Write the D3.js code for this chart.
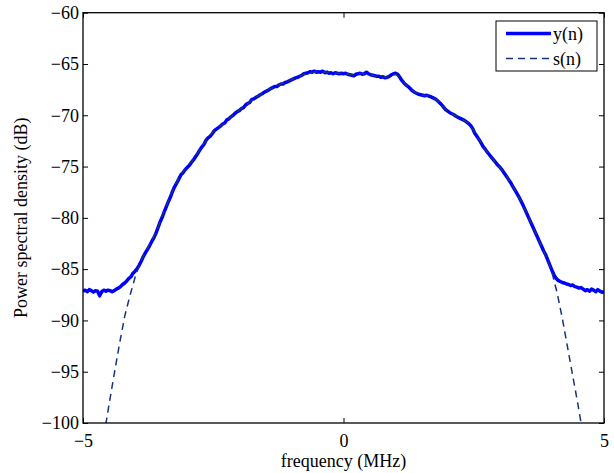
<!DOCTYPE html>
<html lang="en">
<head>
  <meta charset="UTF-8">
  <title>Power spectral density</title>
  <script src='https://d3js.org/d3.v7.min.js'></script>
  <style>
    body { margin: 0; background: #fff; }
    text { font-family: 'Liberation Serif', 'Times New Roman', serif; }
  </style>
</head>
<body>
</body>
<script>
  const width = 614, height = 473;
  const margin = {top: 12.7, right: 10, bottom: 50, left: 83};

  // y(n): measured spectrum, sampled every 0.04 MHz from -5 MHz
  const yStart = -5, yStep = 0.04;
  const yValues = [
    -87.15, -87.05, -87.20, -87.00, -87.10, -87.25, -87.10, -87.15, -87.60, -87.20,
    -87.05, -87.15, -87.05, -87.10, -87.20, -87.10, -86.95, -86.85, -86.70, -86.50,
    -86.35, -86.15, -85.90, -85.75, -85.40, -85.20, -84.95, -84.60, -84.20, -83.75,
    -83.40, -83.05, -82.70, -82.30, -81.95, -81.50, -80.95, -80.40, -79.95, -79.40,
    -78.90, -78.40, -77.95, -77.40, -76.95, -76.60, -76.20, -75.80, -75.60, -75.30,
    -75.10, -74.90, -74.60, -74.35, -74.05, -73.75, -73.40, -73.10, -72.85, -72.45,
    -72.20, -72.05, -71.80, -71.50, -71.35, -71.20, -71.05, -70.85, -70.75, -70.45,
    -70.35, -70.15, -70.00, -69.80, -69.65, -69.55, -69.35, -69.25, -69.00, -68.85,
    -68.75, -68.45, -68.40, -68.25, -68.15, -68.00, -67.90, -67.75, -67.65, -67.55,
    -67.40, -67.30, -67.20, -67.20, -67.05, -66.95, -66.95, -66.80, -66.75, -66.65,
    -66.55, -66.45, -66.35, -66.30, -66.20, -66.10, -65.95, -65.90, -65.85, -65.75,
    -65.80, -65.70, -65.80, -65.75, -65.80, -65.70, -65.85, -65.80, -65.90, -65.85,
    -65.95, -65.85, -65.90, -65.95, -65.90, -65.95, -65.90, -66.00, -66.05, -66.10,
    -66.15, -66.00, -65.95, -65.90, -66.00, -65.95, -65.80, -65.95, -66.05, -66.10,
    -66.15, -66.20, -66.20, -66.30, -66.25, -66.35, -66.30, -66.20, -66.05, -65.95,
    -65.90, -66.00, -66.30, -66.60, -66.85, -67.05, -67.20, -67.40, -67.60, -67.75,
    -67.85, -67.95, -68.00, -68.05, -68.10, -68.05, -68.15, -68.20, -68.30, -68.40,
    -68.55, -68.75, -68.95, -69.20, -69.45, -69.60, -69.75, -69.85, -69.95, -70.10,
    -70.20, -70.30, -70.40, -70.50, -70.65, -70.80, -71.00, -71.30, -71.75, -72.05,
    -72.35, -72.70, -73.05, -73.30, -73.60, -73.85, -74.10, -74.35, -74.60, -74.85,
    -75.05, -75.30, -75.60, -75.90, -76.20, -76.50, -76.85, -77.20, -77.55, -77.90,
    -78.30, -78.70, -79.15, -79.60, -80.05, -80.50, -80.95, -81.40, -81.85, -82.30,
    -82.75, -83.20, -83.60, -84.10, -84.60, -85.10, -85.55, -85.90, -86.10, -86.20,
    -86.30, -86.35, -86.45, -86.50, -86.60, -86.55, -86.70, -86.75, -86.85, -86.80,
    -86.95, -87.10, -87.00, -87.15, -86.95, -87.05, -87.20, -87.00, -87.15, -87.25,
    -87.20
  ];

  // s(n): reference signal spectrum, sampled every 0.1 MHz from -4.6 MHz
  const sStart = -4.6, sStep = 0.1;
  const sValues = [
    -101.3, -98.2, -95.2, -92.3, -89.6, -87.6, -85.8, -84.3, -83.3, -82.4,
    -81.4, -80.1, -78.8, -77.6, -76.5, -75.6, -75.0, -74.4, -73.7, -72.9,
    -72.2, -71.6, -71.2, -70.8, -70.3, -69.9, -69.5, -69.1, -68.7, -68.3,
    -68.0, -67.7, -67.4, -67.2, -66.95, -66.75, -66.55, -66.3, -66.1, -65.9,
    -65.8, -65.75, -65.75, -65.85, -65.9, -65.9, -65.95, -66.0, -66.05, -65.95,
    -65.95, -66.0, -66.15, -66.25, -66.3, -66.15, -66.0, -66.45, -67.05, -67.5,
    -67.85, -68.05, -68.1, -68.25, -68.55, -69.1, -69.6, -69.9, -70.2, -70.45,
    -70.8, -71.5, -72.35, -73.2, -73.85, -74.5, -75.05, -75.75, -76.5, -77.4,
    -78.3, -79.4, -80.5, -81.6, -82.75, -83.9, -85.3, -87.3, -89.8, -92.6,
    -95.4, -98.2, -101.2
  ];

  const xTicks = [-5, 0, 5];
  const yTicks = [-60, -65, -70, -75, -80, -85, -90, -95, -100];
  const seriesNames = ['y(n)', 's(n)'];

  const yData = yValues.map((v, i) => ({f: yStart + i * yStep, v: v}));
  const sData = sValues.map((v, i) => ({f: sStart + i * sStep, v: v}));

  const svg = d3.select('body').append('svg')
    .attr('width', width).attr('height', height);

  const x = d3.scaleLinear().domain([-5, 5]).range([margin.left, width - margin.right]);
  const y = d3.scaleLinear().domain([-100, -60]).range([height - margin.bottom, margin.top]);

  svg.append('clipPath').attr('id', 'plot')
    .append('rect')
    .attr('x', x(-5)).attr('y', y(-60))
    .attr('width', x(5) - x(-5)).attr('height', y(-100) - y(-60));

  const line = d3.line().x(d => x(d.f)).y(d => y(d.v));

  const minus = v => (v < 0 ? '\u2212' : '') + Math.abs(v);

  // curves
  svg.append('path')
    .datum(yData)
    .attr('clip-path', 'url(#plot)')
    .attr('fill', 'none')
    .attr('stroke', '#0000ff')
    .attr('stroke-width', 3.5)
    .attr('stroke-linejoin', 'round')
    .attr('d', line);

  svg.append('path')
    .datum(sData)
    .attr('clip-path', 'url(#plot)')
    .attr('fill', 'none')
    .attr('stroke', '#17347a')
    .attr('stroke-width', 1.5)
    .attr('stroke-dasharray', '7,5')
    .attr('d', line);

  // axes (ticks point inward like matlab)
  const fontSize = 18;
  const axB = svg.append('g').attr('transform', `translate(0,${y(-100)})`)
    .call(d3.axisBottom(x).tickValues(xTicks).tickSizeInner(-5).tickSizeOuter(0).tickPadding(11).tickFormat(minus));
  const axT = svg.append('g').attr('transform', `translate(0,${y(-60)})`)
    .call(d3.axisTop(x).tickValues(xTicks).tickSizeInner(-5).tickSizeOuter(0).tickFormat(''));
  const axL = svg.append('g').attr('transform', `translate(${x(-5)},0)`)
    .call(d3.axisLeft(y).tickValues(yTicks).tickSizeInner(-5).tickSizeOuter(0).tickPadding(4).tickFormat(minus));
  const axR = svg.append('g').attr('transform', `translate(${x(5)},0)`)
    .call(d3.axisRight(y).tickValues(yTicks).tickSizeInner(-5).tickSizeOuter(0).tickFormat(''));

  [axB, axT, axL, axR].forEach(g => {
    g.select('.domain').remove();
    g.selectAll('line').attr('stroke', '#000').attr('stroke-width', 1);
    g.selectAll('text').attr('fill', '#000').style('font-size', fontSize + 'px')
      .style('font-family', "'Liberation Serif', serif");
  });

  // box
  svg.append('rect')
    .attr('x', x(-5)).attr('y', y(-60))
    .attr('width', x(5) - x(-5)).attr('height', y(-100) - y(-60))
    .attr('fill', 'none').attr('stroke', '#000').attr('stroke-width', 1.3);

  // axis labels
  svg.append('text')
    .attr('x', (x(-5) + x(5)) / 2).attr('y', 467)
    .attr('text-anchor', 'middle')
    .style('font-size', fontSize + 'px')
    .text('frequency (MHz)');

  svg.append('text')
    .attr('transform', `translate(27,${(y(-60) + y(-100)) / 2}) rotate(-90)`)
    .attr('text-anchor', 'middle')
    .style('font-size', fontSize + 'px')
    .text('Power spectral density (dB)');

  // legend
  const lg = svg.append('g').attr('transform', 'translate(496,21)');
  lg.append('rect').attr('width', 101).attr('height', 50)
    .attr('fill', '#fff').attr('stroke', '#000').attr('stroke-width', 1);
  const styles = [
    {stroke: '#0000ff', w: 3.5, dash: null},
    {stroke: '#17347a', w: 1.5, dash: '7,5'}
  ];
  seriesNames.forEach((name, i) => {
    const cy = 12.5 + i * 25;
    lg.append('line')
      .attr('x1', 10).attr('x2', 55).attr('y1', cy).attr('y2', cy)
      .attr('stroke', styles[i].stroke).attr('stroke-width', styles[i].w)
      .attr('stroke-dasharray', styles[i].dash);
    lg.append('text')
      .attr('x', 57).attr('y', cy + 6)
      .style('font-size', fontSize + 'px')
      .text(name);
  });
  console.log('ready..');
</script>
</html>
